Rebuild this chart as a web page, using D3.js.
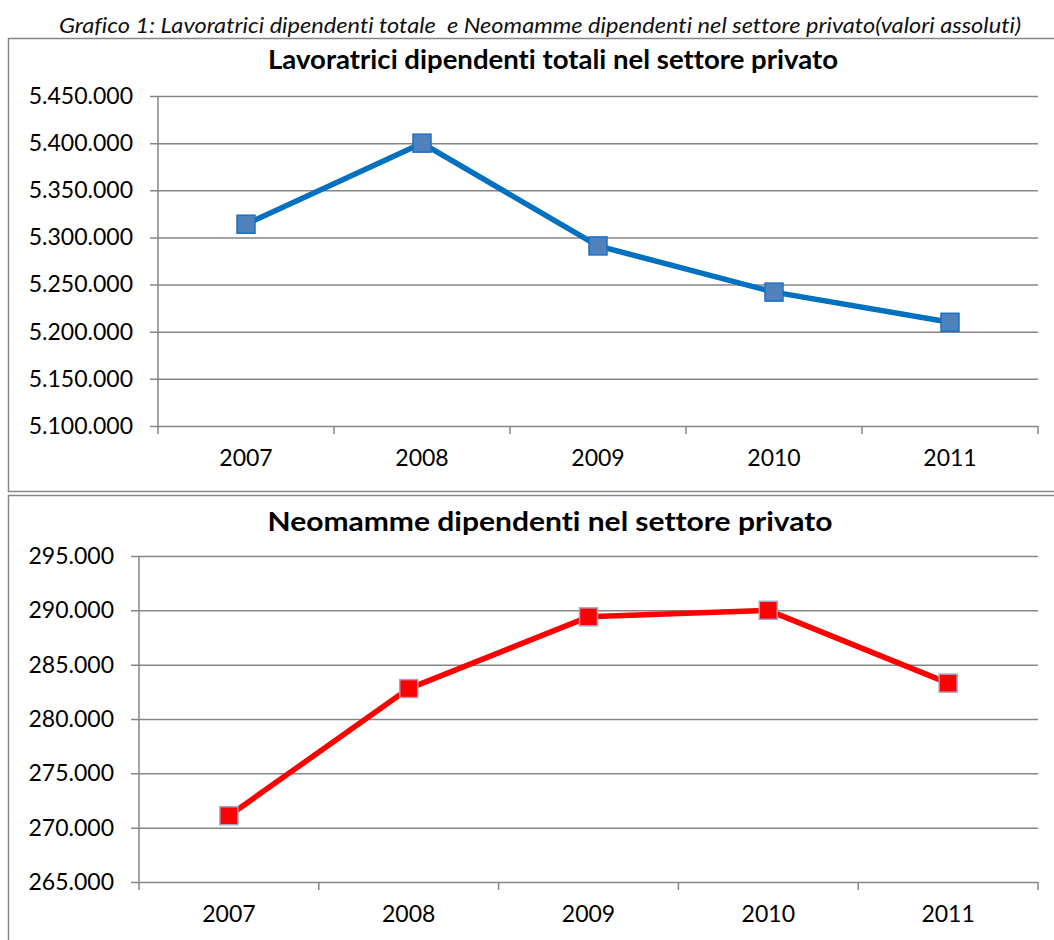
<!DOCTYPE html>
<html>
<head>
<meta charset="utf-8">
<script src="https://cdn.jsdelivr.net/npm/d3@7"></script>
<style>
  html, body { margin: 0; padding: 0; background: #fff; }
  svg { display: block; font-family: Lato, 'Open Sans', sans-serif; font-variant-ligatures: none; }
</style>
</head>
<body>
<div id="chart"></div>
<script>
const years = ['2007', '2008', '2009', '2010', '2011']
const lavoratrici = [5314000, 5400000, 5291000, 5242000, 5210000]
const neomamme = [271100, 282800, 289400, 290000, 283300]
const lavTicks = [5100000, 5150000, 5200000, 5250000, 5300000, 5350000, 5400000, 5450000]
const neoTicks = [265000, 270000, 275000, 280000, 285000, 290000, 295000]

const caption = 'Grafico 1: Lavoratrici dipendenti totale  e Neomamme dipendenti nel settore privato(valori assoluti)'
const titleTop = 'Lavoratrici dipendenti totali nel settore privato'
const titleBottom = 'Neomamme dipendenti nel settore privato'

const W = 1054, H = 940
const GRID = '#868686'

const it = d3.formatLocale({ decimal: ',', thousands: '.', grouping: [3], currency: ['€', ''] })
const fmt = it.format(',d')

const svg = d3.select('#chart').append('svg')
  .attr('width', W).attr('height', H)
  .attr('viewBox', `0 0 ${W} ${H}`)

svg.append('text')
  .attr('x', 540).attr('y', 33)
  .attr('text-anchor', 'middle')
  .attr('font-size', 21.5).attr('font-style', 'italic')
  .attr('textLength', 962).attr('lengthAdjust', 'spacingAndGlyphs')
  .attr('fill', '#111')
  .style('white-space', 'pre')
  .text(caption)

// panel frames (right edge falls outside the picture)
svg.append('rect')
  .attr('x', 8.5).attr('y', 38.5).attr('width', 1100).attr('height', 453)
  .attr('fill', 'none').attr('stroke', GRID).attr('stroke-width', 1.5)
svg.append('rect')
  .attr('x', 8.5).attr('y', 495.5).attr('width', 1100).attr('height', 500)
  .attr('fill', 'none').attr('stroke', GRID).attr('stroke-width', 1.5)

function panel(cfg) {
  const x = d3.scaleBand().domain(years).range([cfg.left, cfg.right])
  const y = d3.scaleLinear().domain(d3.extent(cfg.ticks)).range([cfg.bottom, cfg.top])
  const g = svg.append('g')

  g.append('text')
    .attr('x', cfg.titleX).attr('y', cfg.titleY)
    .attr('text-anchor', 'middle')
    .attr('font-size', 27).attr('font-weight', 700)
    .attr('textLength', cfg.titleW).attr('lengthAdjust', 'spacingAndGlyphs')
    .attr('fill', '#000')
    .text(cfg.title)

  // horizontal gridlines + y axis labels
  g.append('g')
    .attr('transform', `translate(${cfg.left},0)`)
    .call(d3.axisLeft(y).tickValues(cfg.ticks).tickFormat(fmt)
      .tickSize(-(cfg.right - cfg.left)).tickPadding(20))
    .call(s => s.select('.domain').remove())
    .call(s => s.selectAll('line').attr('stroke', GRID).attr('stroke-width', 1.5)
      .attr('x1', -8).attr('x2', cfg.right - cfg.left))
    .call(s => s.selectAll('text').attr('fill', '#000').attr('font-size', 23)
      .attr('font-family', 'Lato, sans-serif').attr('x', -25))

  // vertical axis line
  g.append('line')
    .attr('x1', cfg.left).attr('x2', cfg.left)
    .attr('y1', cfg.top).attr('y2', cfg.bottom)
    .attr('stroke', GRID).attr('stroke-width', 1.5)

  // category tick marks at band edges
  const edges = years.map(d => x(d)).concat([cfg.right])
  g.selectAll('line.xtick').data(edges).join('line')
    .attr('class', 'xtick')
    .attr('x1', d => d).attr('x2', d => d)
    .attr('y1', cfg.bottom).attr('y2', cfg.bottom + 8)
    .attr('stroke', GRID).attr('stroke-width', 1.5)

  // category labels
  g.append('g')
    .attr('transform', `translate(0,${cfg.bottom})`)
    .call(d3.axisBottom(x).tickSize(0).tickPadding(24))
    .call(s => s.select('.domain').remove())
    .call(s => s.selectAll('text').attr('fill', '#000').attr('font-size', 23)
      .attr('font-family', 'Lato, sans-serif'))

  const cx = d => x(d) + x.bandwidth() / 2
  const line = d3.line().x((_, i) => cx(years[i])).y(v => y(v))

  g.append('path')
    .attr('d', line(cfg.values))
    .attr('fill', 'none').attr('stroke', cfg.lineColor)
    .attr('stroke-width', 5.5).attr('stroke-linejoin', 'round')

  const s = 18
  g.selectAll('rect.marker').data(cfg.values).join('rect')
    .attr('class', 'marker')
    .attr('x', (_, i) => cx(years[i]) - s / 2)
    .attr('y', v => y(v) - s / 2)
    .attr('width', s).attr('height', s)
    .attr('fill', cfg.markerFill)
    .attr('stroke', cfg.markerStroke).attr('stroke-width', 1.5)
}

panel({
  title: titleTop, titleX: 553, titleY: 69, titleW: 570,
  left: 158, right: 1038, top: 96, bottom: 426,
  ticks: lavTicks, values: lavoratrici,
  lineColor: '#0070C0', markerFill: '#4F81BD', markerStroke: '#1F70C0'
})

panel({
  title: titleBottom, titleX: 550, titleY: 531, titleW: 565,
  left: 139, right: 1038, top: 556, bottom: 882,
  ticks: neoTicks, values: neomamme,
  lineColor: '#FF0000', markerFill: '#FF0000', markerStroke: '#A9A2C8'
})
</script>
</body>
</html>
